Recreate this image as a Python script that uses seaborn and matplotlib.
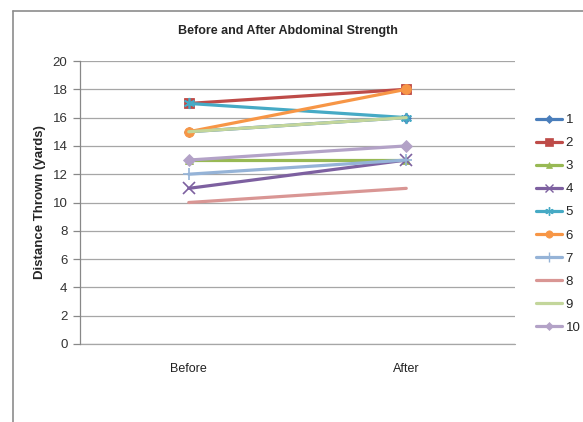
import matplotlib
matplotlib.use("Agg")
import matplotlib.pyplot as plt
from matplotlib.lines import Line2D
import seaborn as sns
import pandas as pd

# Throw distances (yards) before and after abdominal training
phases = ["Before", "After"]
series_names = ["1", "2", "3", "4", "5", "6", "7", "8", "9", "10"]
before = [15, 17, 13, 11, 17, 15, 12, 10, 15, 13]
after = [16, 18, 13, 13, 16, 18, 13, 11, 16, 14]

colors = ["#4A7EBB", "#BE4B48", "#98B954", "#7D60A0", "#46AAC5",
          "#F79646", "#95B3D7", "#D99694", "#C3D69B", "#B3A2C7"]
markers = ["D", "s", "^", "x", (6, 2, 0), "o", "+", None, None, "D"]
marker_sizes = [5, 7, 6, 8, 8, 7, 9, 0, 0, 6]
line_art = ("x", "+", (6, 2, 0))

sns.set_style("white")
plt.rcParams["font.family"] = ["Liberation Sans", "DejaVu Sans"]

rows = []
for name, b, a in zip(series_names, before, after):
    rows.append({"phase": phases[0], "yards": b, "series": name})
    rows.append({"phase": phases[1], "yards": a, "series": name})
df = pd.DataFrame(rows)

fig = plt.figure(figsize=(5.83, 4.22), dpi=100)
ax = fig.add_axes([80 / 583, 1 - 344 / 422, 435 / 583, 283 / 422])

handles = []
for name, col, mk, ms in zip(series_names, colors, markers, marker_sizes):
    sub = df[df["series"] == name]
    sns.lineplot(data=sub, x="phase", y="yards", ax=ax, color=col,
                 linewidth=2.3, marker=mk if mk else "", markersize=ms,
                 markeredgecolor=col,
                 markeredgewidth=1.2 if mk in line_art else 0.6,
                 sort=False, legend=False)
    handles.append(Line2D([], [], color=col, linewidth=2.3,
                          marker=mk if mk else "", markersize=ms * 0.75,
                          markeredgecolor=col,
                          markeredgewidth=1.0 if mk in line_art else 0.5))

ax.set_xlim(-0.5, 1.5)
ax.set_ylim(0, 20)
ax.set_yticks(range(0, 21, 2))
ax.yaxis.grid(True, color="#A6A6A6", linewidth=0.9)
ax.axhline(0, color="#A6A6A6", linewidth=0.9, clip_on=False, zorder=0)
ax.set_axisbelow(True)
for s in ["top", "right", "bottom"]:
    ax.spines[s].set_visible(False)
ax.spines["left"].set_color("#888888")
ax.spines["left"].set_linewidth(0.9)
ax.tick_params(axis="y", which="major", length=5, width=0.9, color="#888888",
               left=True, labelsize=9.5, labelcolor="#333333", pad=4)
ax.tick_params(axis="x", length=0, labelsize=9, labelcolor="#222222", pad=14)
ax.set_xlabel("")
ax.set_ylabel("Distance Thrown (yards)", fontsize=9.5, fontweight="bold",
              labelpad=5)

fig.text(288 / 583, 1 - 31 / 422, "Before and After Abdominal Strength",
         ha="center", va="center", fontsize=9, fontweight="bold")

leg = fig.legend(handles, series_names, loc="upper left",
                 bbox_to_anchor=(536 / 583, 1 - 114 / 422), frameon=False,
                 borderpad=0, borderaxespad=0,
                 handlelength=2.0, handletextpad=0.25, labelspacing=0.82,
                 fontsize=9.5)

# Chart area frame
fig.add_artist(Line2D([13 / 583, 1.0], [1 - 11 / 422, 1 - 11 / 422],
                      transform=fig.transFigure, color="#8C8C8C", linewidth=1.2))
fig.add_artist(Line2D([13 / 583, 13 / 583], [0.0, 1 - 11 / 422],
                      transform=fig.transFigure, color="#8C8C8C", linewidth=1.2))

fig.savefig("out.png", dpi=100)
